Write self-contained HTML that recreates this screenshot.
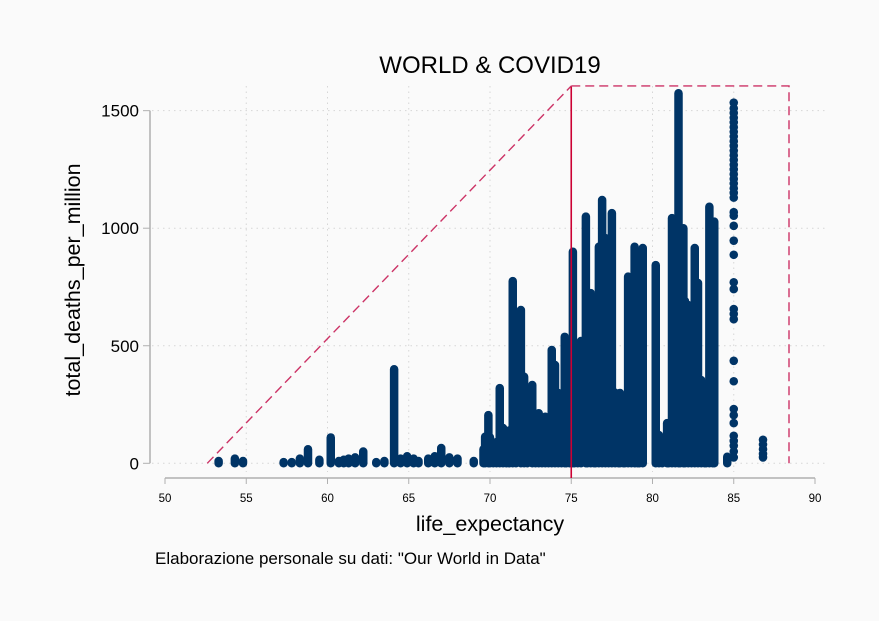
<!DOCTYPE html>
<html><head><meta charset="utf-8"><style>
html,body{margin:0;padding:0;background:#fafafa;}
svg{display:block;font-family:"Liberation Sans",Arial,sans-serif;}
</style></head><body>
<svg width="879" height="621" viewBox="0 0 879 621">
<rect width="879" height="621" fill="#fafafa"/>
<text x="490" y="73" font-size="24" text-anchor="middle" fill="#000">WORLD &amp; COVID19</text>
<g id="grid"></g>
<g id="axes"></g>
<g id="marks"></g>
<g id="ann"></g>
<text x="490" y="531" font-size="21.5" text-anchor="middle">life_expectancy</text>
<text transform="translate(80,280) rotate(-90)" font-size="21.5" text-anchor="middle">total_deaths_per_million</text>
<text x="155" y="564" font-size="17">Elaborazione personale su dati: "Our World in Data"</text>
</svg>
<script>
const xTicks=[50,55,60,65,70,75,80,85,90];
const yTicks=[0,500,1000,1500];
const colX=[53.3,54.3,54.8,57.3,57.8,58.3,58.8,59.5,60.2,60.7,61.0,61.3,61.7,62.2,63.0,63.5,64.1,64.5,64.9,65.3,65.6,66.2,66.6,67.0,67.5,68.0,69.0,69.7,69.9,70.2,70.6,71.0,71.4,71.9,72.1,72.6,73.0,73.4,73.8,74.0,74.2,74.6,74.7,75.1,75.4,75.9,76.2,76.7,76.9,77.1,77.5,78.0,78.5,78.9,79.4,80.2,80.9,81.2,81.6,81.7,82.2,82.6,82.8,83.0,83.5,83.8,84.6];
const colMax=[10,20,10,5,5,20,60,15,110,10,15,20,25,50,5,10,400,20,30,20,10,20,30,65,25,20,10,113,205,60,320,90,775,652,368,333,213,198,482,418,299,538,384,900,312,1049,724,921,1120,958,1064,299,794,921,916,843,171,1043,1574,709,673,916,767,354,1091,1028,28];
const fillX=[69.6,70.0,70.4,70.8,71.2,71.6,72.3,72.8,73.2,73.6,74.4,74.9,75.2,75.6,76.0,76.4,76.5,77.3,77.7,77.9,78.2,78.3,78.7,79.1,79.2,80.4,80.6,81.0,81.4,81.9,82.0,82.4,83.2,83.3,83.7];
const fillMax=[60,110,90,150,140,200,180,160,190,170,240,330,300,520,600,640,500,640,300,280,250,230,520,700,500,120,90,150,960,1000,690,560,160,120,800];
const dotX=[85,85,85,85,85,85,85,85,85,85,85,85,85,85,85,85,85,85,85,85,85,85,85,85,85,85,85,85,85,85,85,85,85,85,85,85,85,85,85,85,85,86.8,86.8,86.8,86.8,86.8];
const dotY=[1534,1510,1490,1470,1450,1430,1410,1390,1370,1350,1330,1310,1290,1270,1250,1230,1210,1190,1170,1150,1130,1068,1053,1010,947,887,770,741,656,635,613,436,349,231,205,171,117,95,75,50,25,100,80,60,40,25];
const refX=75, refTop=1605, diagStartX=52.6, boxRightX=88.4;
const NS="http://www.w3.org/2000/svg";
const sx=v=>165+(v-50)*16.25;
const sy=v=>463.3-v*0.2351;
function mk(tag,attrs,parent){const e=document.createElementNS(NS,tag);for(const k in attrs)e.setAttribute(k,attrs[k]);parent.appendChild(e);return e;}
const grid=document.getElementById('grid'),axes=document.getElementById('axes'),marks=document.getElementById('marks'),ann=document.getElementById('ann');
yTicks.forEach(t=>{
 const g=mk('line',{x1:152,x2:828,y1:sy(t),y2:sy(t),stroke:'#d6d6d6','stroke-dasharray':'1.5,4'},grid);
 
 
 const tk=mk('line',{x1:143,x2:150,y1:sy(t),y2:sy(t),stroke:'#b0b0b0'},axes);
 
 
 const lb=mk('text',{x:139,y:sy(t)+6,'font-size':17,'text-anchor':'end'},axes);
 lb.textContent=t;
 
 
});
xTicks.forEach(t=>{
 if(t>50&&t<90){const g=mk('line',{x1:sx(t),x2:sx(t),y1:86,y2:472,stroke:'#d6d6d6','stroke-dasharray':'1.5,4'},grid);
 
 }
 const tk=mk('line',{x1:sx(t),x2:sx(t),y1:478,y2:484,stroke:'#b0b0b0'},axes);
 
 
 const lb=mk('text',{x:sx(t),y:502,'font-size':11.5,'text-anchor':'middle'},axes);
 lb.textContent=t;
 
 
});
const ya=mk('line',{x1:150,x2:150,y1:sy(1500),y2:sy(0),stroke:'#b0b0b0','stroke-width':1.5},axes);


const xa=mk('line',{x1:sx(50),x2:sx(90),y1:478,y2:478,stroke:'#b0b0b0','stroke-width':1.5},axes);


function col(x,m){
 const l=mk('line',{x1:sx(x),x2:sx(x),y1:sy(0),y2:sy(m),stroke:'#003466','stroke-width':8.5,'stroke-linecap':'round'},marks);
 
 
}
fillX.forEach((x,i)=>col(x,fillMax[i]));
colX.forEach((x,i)=>col(x,colMax[i]));
dotX.forEach((x,i)=>{
 const c=mk('circle',{cx:sx(x),cy:sy(dotY[i]),r:4.3,fill:'#003466'},marks);
 
 
});
const v=mk('line',{x1:sx(refX),x2:sx(refX),y1:sy(refTop),y2:478,stroke:'#cc0033','stroke-width':1.6},ann);


const d=mk('line',{x1:sx(diagStartX),y1:sy(0),x2:sx(refX),y2:sy(refTop),stroke:'#cc3366','stroke-width':1.4,'stroke-dasharray':'9,5'},ann);


const b=mk('polyline',{points:`${sx(refX)},${sy(refTop)} ${sx(boxRightX)},${sy(refTop)} ${sx(boxRightX)},${sy(0)}`,fill:'none',stroke:'#cc3366','stroke-width':1.4,'stroke-dasharray':'9,5'},ann);


</script>
</body></html>
